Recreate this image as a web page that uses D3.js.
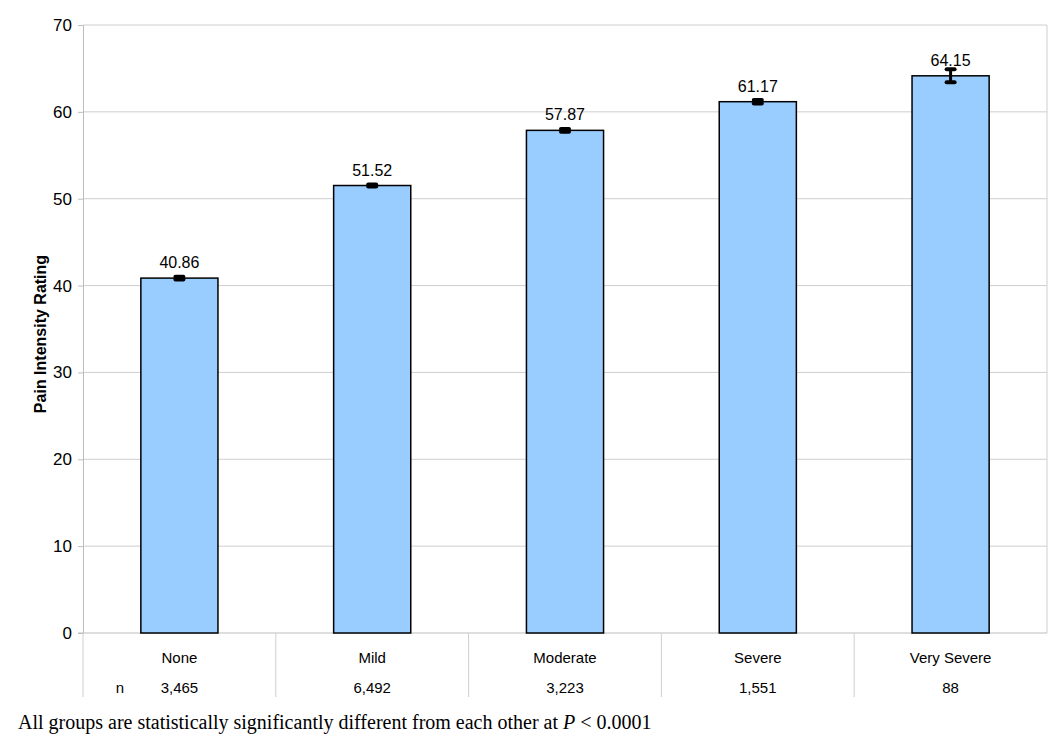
<!DOCTYPE html>
<html>
<head>
<meta charset="utf-8">
<script src="https://cdn.jsdelivr.net/npm/d3@7"></script>
<style>
  body { margin: 0; background: #fff; }
  svg { display: block; }
</style>
</head>
<body>
<div id="chart"></div>
<script>
// data
const categories = ['None', 'Mild', 'Moderate', 'Severe', 'Very Severe'];
const means = [40.86, 51.52, 57.87, 61.17, 64.15];
const ciHalf = [0.15, 0.12, 0.15, 0.2, 0.75];
const counts = ['3,465', '6,492', '3,223', '1,551', '88'];
const yTicks = [0, 10, 20, 30, 40, 50, 60, 70];

const width = 1050, height = 747;
const margin = { top: 25, right: 3, bottom: 114, left: 83 };

const svg = d3.select('#chart').append('svg')
    .attr('width', width)
    .attr('height', height)
    .style('font-family', '"Liberation Sans", Arial, sans-serif');

const x = d3.scaleBand()
    .domain(categories)
    .range([margin.left, width - margin.right])
    .paddingInner(0.6)
    .paddingOuter(0.3);

const y = d3.scaleLinear()
    .domain([0, 70])
    .range([height - margin.bottom, margin.top]);

const bandStep = x.step();
const bandCenter = d => x(d) + x.bandwidth() / 2;

// gridlines
svg.append('g')
    .selectAll('line')
    .data(yTicks.slice(1))
    .join('line')
    .attr('x1', margin.left)
    .attr('x2', width - margin.right)
    .attr('y1', d => y(d))
    .attr('y2', d => y(d))
    .attr('stroke', '#cfcfcf')
    .attr('stroke-width', 1);

// plot frame (right edge)
svg.append('line')
    .attr('x1', width - margin.right).attr('x2', width - margin.right)
    .attr('y1', margin.top).attr('y2', y(0))
    .attr('stroke', '#cfcfcf');

// y axis
const yAxis = svg.append('g')
    .attr('transform', `translate(${margin.left},0)`)
    .call(d3.axisLeft(y).tickValues(yTicks).tickSize(5).tickPadding(6));
yAxis.select('.domain').attr('stroke', '#bdbdbd');
yAxis.selectAll('.tick line').attr('stroke', '#bdbdbd');
yAxis.selectAll('.tick text')
    .attr('font-size', 17)
    .attr('fill', '#000')
    .style('font-family', '"Liberation Sans", Arial, sans-serif');

// baseline
svg.append('line')
    .attr('x1', margin.left - 5).attr('x2', width - margin.right)
    .attr('y1', y(0)).attr('y2', y(0))
    .attr('stroke', '#bdbdbd');

// y axis title
svg.append('text')
    .attr('transform', `translate(46,334) rotate(-90)`)
    .attr('text-anchor', 'middle')
    .attr('font-size', 16)
    .attr('font-weight', 'bold')
    .text('Pain Intensity Rating');

// bars
svg.append('g')
    .selectAll('rect')
    .data(categories)
    .join('rect')
    .attr('x', d => x(d))
    .attr('y', (d, i) => y(means[i]))
    .attr('width', x.bandwidth())
    .attr('height', (d, i) => y(0) - y(means[i]))
    .attr('fill', '#99ccff')
    .attr('stroke', '#000')
    .attr('stroke-width', 1.5);

// error bars
const err = svg.append('g').attr('stroke', '#000').attr('stroke-linecap', 'round');
categories.forEach((c, i) => {
    const cx = bandCenter(c);
    const hi = y(means[i] + ciHalf[i]);
    const lo = y(means[i] - ciHalf[i]);
    err.append('line')
        .attr('x1', cx).attr('x2', cx)
        .attr('y1', hi).attr('y2', lo)
        .attr('stroke-width', 3);
    [hi, lo].forEach(yy => {
        err.append('line')
            .attr('x1', cx - 4).attr('x2', cx + 4)
            .attr('y1', yy).attr('y2', yy)
            .attr('stroke-width', 4);
    });
});

// value labels
svg.append('g')
    .selectAll('text')
    .data(categories)
    .join('text')
    .attr('x', d => bandCenter(d))
    .attr('y', (d, i) => y(means[i]) - 10)
    .attr('text-anchor', 'middle')
    .attr('font-size', 16)
    .text((d, i) => means[i].toFixed(2));

// data table under the axis
const table = svg.append('g');
const tableTop = y(0), tableBottom = tableTop + 64;
const separators = d3.range(categories.length).map(i => margin.left + i * bandStep);
table.selectAll('line')
    .data(separators)
    .join('line')
    .attr('x1', d => d).attr('x2', d => d)
    .attr('y1', tableTop).attr('y2', tableBottom)
    .attr('stroke', '#cfcfcf');

table.selectAll('text.cat')
    .data(categories)
    .join('text')
    .attr('class', 'cat')
    .attr('x', d => bandCenter(d))
    .attr('y', tableTop + 30)
    .attr('text-anchor', 'middle')
    .attr('font-size', 15)
    .text(d => d);

table.selectAll('text.n')
    .data(counts)
    .join('text')
    .attr('class', 'n')
    .attr('x', (d, i) => bandCenter(categories[i]))
    .attr('y', tableTop + 60)
    .attr('text-anchor', 'middle')
    .attr('font-size', 15)
    .text(d => d);

table.append('text')
    .attr('x', 120)
    .attr('y', tableTop + 60)
    .attr('text-anchor', 'middle')
    .attr('font-size', 15)
    .text('n');

// footnote
const note = svg.append('text')
    .attr('x', 18)
    .attr('y', 729)
    .attr('font-size', 20)
    .style('font-family', '"Liberation Serif", "Times New Roman", serif');
note.append('tspan').text('All groups are statistically significantly different from each other at ');
note.append('tspan').attr('font-style', 'italic').text('P');
note.append('tspan').text(' < 0.0001');
</script>
</body>
</html>
